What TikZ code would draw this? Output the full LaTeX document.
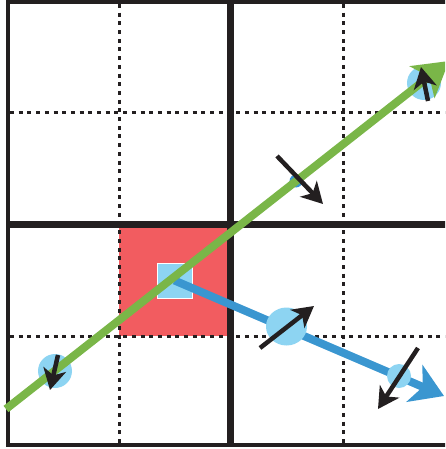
\documentclass[tikz,border=0pt]{standalone}
\usetikzlibrary{arrows.meta,shapes.geometric}
\definecolor{gridblack}{HTML}{231F20}
\definecolor{rayg}{HTML}{7AB648}
\definecolor{rayb}{HTML}{3A96D0}
\definecolor{lightb}{HTML}{8DD4F2}
\definecolor{cellred}{HTML}{F25C60}
\begin{document}
\begin{tikzpicture}[x=1pt,y=-1pt,
  outerline/.style={line width=3.6pt, draw=gridblack},
  thickline/.style={line width=6.5pt, draw=gridblack},
  dotline/.style={line width=3pt, draw=gridblack, dash pattern=on 4pt off 4.7pt},
  greenray/.style={line width=8pt, draw=rayg, -{Stealth[length=34pt,width=40pt,inset=9pt]}},
  blueray/.style={line width=8pt, draw=rayb, -{Stealth[length=32pt,width=40pt,inset=9pt]}},
  blob/.style={circle, fill=lightb, inner sep=0pt},
  smallblob/.style={circle, fill=rayb, inner sep=0pt, minimum size=13pt},
  vec/.style={line width=4.5pt, draw=gridblack, -{Stealth[length=21pt,width=23pt,inset=6pt]}},
  cellsq/.style={fill=lightb, draw=white, line width=1pt, minimum size=35pt, inner sep=0pt}]
\useasboundingbox (0,0) rectangle (445,449);
\begin{scope}
\clip (0,0) rectangle (445,449);
% red cell
\fill[cellred] (119,225) rectangle (231,336);
% dotted grid lines
\draw[dotline] (119,4) -- (119,443);
\draw[dotline] (343,4) -- (343,443);
\draw[dotline] (10,113) -- (445,113);
\draw[dotline] (10,336) -- (445,336);
% thick lines
\draw[thickline] (230.7,2) -- (230.7,445);
\draw[thickline] (8,224.3) -- (450,224.3);
% outer border
\draw[outerline] (460,2) -- (8,2) -- (8,445) -- (460,445);
% light blue square
\node[cellsq] (sq) at (174.5,280.5) {};
% circles under green ray
\node[blob, minimum size=34pt] (c1) at (424,83) {};
\node[blob, minimum size=34pt] (c2) at (55,371) {};
\node[smallblob] (c5) at (296,181) {};
% blue ray
\coordinate (b1) at (444,396);
\draw[blueray] (sq.center) -- (b1);
% circles over blue ray
\node[blob, ellipse, minimum width=41pt, minimum height=38pt] (c3) at (286.5,326.5) {};
\node[blob, minimum size=24pt] (c4) at (399,376) {};
% green ray
\coordinate (g0) at (6,409);
\coordinate (g1) at (449,61);
\draw[greenray] (g0) -- (g1);
% black vectors
\coordinate (a1s) at (428,101); \coordinate (a1e) at (421,67);
\coordinate (a2s) at (277,156); \coordinate (a2e) at (323,204);
\coordinate (a3s) at (58,355);  \coordinate (a3e) at (50,390);
\coordinate (a4s) at (260,348); \coordinate (a4e) at (314,306);
\coordinate (a5s) at (418,348); \coordinate (a5e) at (378,409);
\draw[vec] (a1s) -- (a1e);
\draw[vec] (a2s) -- (a2e);
\draw[vec] (a3s) -- (a3e);
\draw[vec] (a4s) -- (a4e);
\draw[vec] (a5s) -- (a5e);
\end{scope}
\end{tikzpicture}
\end{document}
